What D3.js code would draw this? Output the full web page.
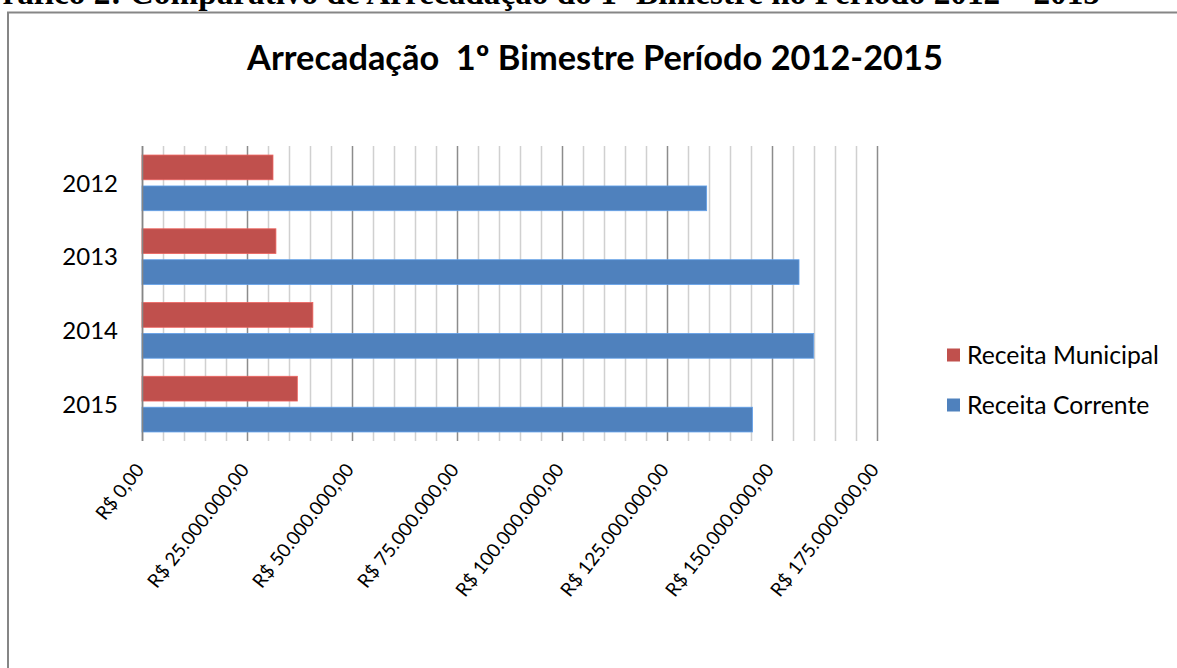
<!DOCTYPE html>
<html>
<head>
<meta charset="utf-8">
<script src="https://cdn.jsdelivr.net/npm/d3@7"></script>
<style>
  html, body { margin: 0; padding: 0; background: #fff; overflow: hidden; }
  svg { display: block; }
</style>
</head>
<body>
<div id="chart"></div>
<script>
// values (R$)
const years = ['2012', '2013', '2014', '2015'];
const seriesNames = ['Receita Municipal', 'Receita Corrente'];
const receitaMunicipal = [31200000, 31900000, 40700000, 37000000];
const receitaCorrente = [134500000, 156500000, 160000000, 145400000];
const tickValues = [0, 25000000, 50000000, 75000000, 100000000, 125000000, 150000000, 175000000];
const seriesColors = ['#C0504D', '#4F81BD'];

const pageTitle = 'Gráfico 2: Comparativo de Arrecadação do 1º Bimestre no Período 2012 – 2015';
const chartTitle = 'Arrecadação  1º Bimestre Período 2012-2015';

const width = 1177,
    height = 668,
    font = 'Lato, "Open Sans", sans-serif',
    plot = { left: 142, right: 876.7, top: 146, bottom: 441 };

const ptBR = d3.formatLocale({
    decimal: ',',
    thousands: '.',
    grouping: [3],
    currency: ['R$ ', '']
});
const money = ptBR.format('$,.2f');

const svg = d3.select('#chart')
    .append('svg')
    .attr('width', width)
    .attr('height', height)
    .attr('viewBox', [0, 0, width, height]);

// shrink / grow a text node so it spans the wanted width
function fitText(sel, target) {
    const size = parseFloat(sel.attr('font-size'));
    const w = sel.node().getComputedTextLength();
    const s = size * target / w;
    sel.attr('font-size', s);
    return s;
}

// document caption, cut off at the top edge as in the scan
const caption = svg.append('text')
    .attr('x', 1100)
    .attr('y', 4)
    .attr('text-anchor', 'end')
    .attr('font-family', '"Liberation Serif", "Times New Roman", serif')
    .attr('font-weight', 'bold')
    .attr('font-size', 28)
    .attr('fill', '#000')
    .text(pageTitle);
fitText(caption, 1124);

// chart frame
svg.append('rect')
    .attr('x', 8)
    .attr('y', 12.5)
    .attr('width', 1200)
    .attr('height', 700)
    .attr('fill', 'none')
    .attr('stroke', '#868686')
    .attr('stroke-width', 2);

// title
const title = svg.append('text')
    .attr('x', 595)
    .attr('y', 70)
    .attr('text-anchor', 'middle')
    .attr('font-family', font)
    .attr('font-weight', 'bold')
    .attr('font-size', 30)
    .attr('fill', '#000')
    .style('white-space', 'pre')
    .text(chartTitle);
fitText(title, 696);

const x = d3.scaleLinear()
    .domain([0, 175000000])
    .range([plot.left, plot.right]);

const y = d3.scaleBand()
    .domain(years)
    .range([plot.top, plot.bottom])
    .paddingInner(0.245)
    .paddingOuter(0.1225);

const ySub = d3.scaleBand()
    .domain(seriesNames)
    .range([0, y.bandwidth()])
    .paddingInner(0.2);

// minor gridlines every 5 million
svg.append('g')
    .selectAll('line')
    .data(x.ticks(35).filter(d => d % 25000000 !== 0))
    .join('line')
    .attr('x1', d => Math.round(x(d)) + 0.5)
    .attr('x2', d => Math.round(x(d)) + 0.5)
    .attr('y1', plot.top)
    .attr('y2', plot.bottom)
    .attr('stroke', '#d0d0d0')
    .attr('stroke-width', 1.5);

// major gridlines
svg.append('g')
    .selectAll('line')
    .data(tickValues)
    .join('line')
    .attr('x1', d => Math.round(x(d)) + 0.5)
    .attr('x2', d => Math.round(x(d)) + 0.5)
    .attr('y1', plot.top)
    .attr('y2', plot.bottom)
    .attr('stroke', '#8c8c8c')
    .attr('stroke-width', 1.5);

// bars
const rows = years.map((year, i) => ({
    year: year,
    values: [
        { name: seriesNames[0], value: receitaMunicipal[i], color: seriesColors[0] },
        { name: seriesNames[1], value: receitaCorrente[i], color: seriesColors[1] }
    ]
}));

svg.append('g')
    .selectAll('g')
    .data(rows)
    .join('g')
    .attr('transform', d => `translate(0,${y(d.year)})`)
    .selectAll('rect')
    .data(d => d.values)
    .join('rect')
    .attr('x', x(0))
    .attr('y', d => ySub(d.name))
    .attr('width', d => x(d.value) - x(0))
    .attr('height', ySub.bandwidth())
    .attr('fill', d => d.color)
    .attr('stroke', d => d3.color(d.color).brighter(0.6))
    .attr('stroke-width', 0.8);

// category axis line
svg.append('line')
    .attr('x1', x(0) + 0.5)
    .attr('x2', x(0) + 0.5)
    .attr('y1', plot.top)
    .attr('y2', plot.bottom)
    .attr('stroke', '#868686')
    .attr('stroke-width', 1.5);

// year labels
svg.append('g')
    .selectAll('text')
    .data(years)
    .join('text')
    .attr('x', 118)
    .attr('y', d => y(d) + y.bandwidth() / 2)
    .attr('dy', '0.36em')
    .attr('text-anchor', 'end')
    .attr('font-family', font)
    .attr('font-size', 24)
    .attr('fill', '#000')
    .text(d => d);

// value axis labels, rotated (the scan is a bit stretched, so steeper than 45)
svg.append('g')
    .selectAll('text')
    .data(tickValues)
    .join('text')
    .attr('transform', d => `translate(${x(d) + 3},${plot.bottom + 29}) rotate(-52)`)
    .attr('text-anchor', 'end')
    .attr('font-family', font)
    .attr('font-size', 19)
    .attr('fill', '#000')
    .text(d => money(d));

// legend
const legend = svg.append('g')
    .selectAll('g')
    .data(seriesNames)
    .join('g')
    .attr('transform', (d, i) => `translate(947,${355 + i * 50})`);

legend.append('rect')
    .attr('x', 0)
    .attr('y', -6.5)
    .attr('width', 13)
    .attr('height', 13)
    .attr('fill', (d, i) => seriesColors[i]);

const legendText = legend.append('text')
    .attr('x', 20)
    .attr('y', 0)
    .attr('dy', '0.35em')
    .attr('font-family', font)
    .attr('font-size', 23)
    .attr('fill', '#000')
    .text(d => d);

const legendSize = fitText(d3.select(legendText.nodes()[0]), 192);
legendText.attr('font-size', legendSize);
</script>
</body>
</html>
